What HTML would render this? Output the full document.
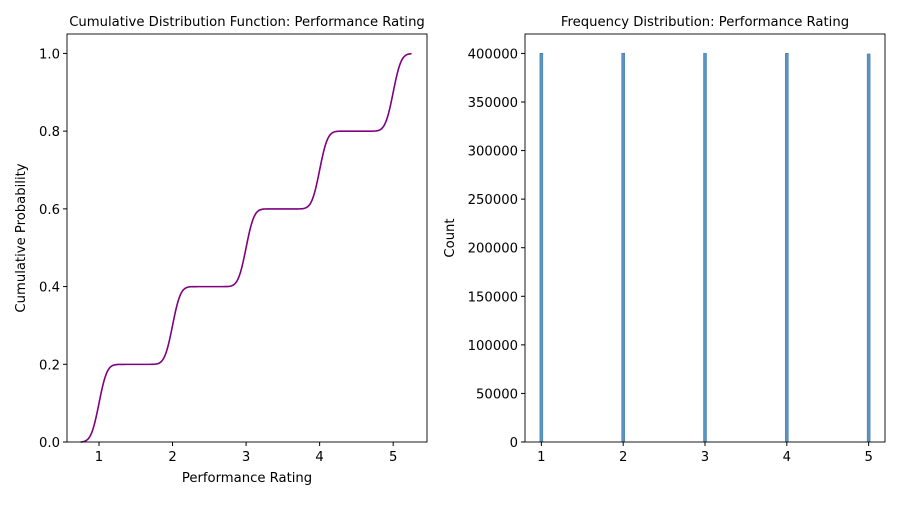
<!DOCTYPE html>
<html><head><meta charset="utf-8"><style>
body{margin:0;background:#fff;}
svg{font-family:"DejaVu Sans","Liberation Sans",sans-serif;}
</style></head><body>
<svg id="c" width="900" height="500" xmlns="http://www.w3.org/2000/svg"></svg>
<script>
const ratings=[1,2,3,4,5];
const counts=[400200,400250,400100,400200,399500];
const cdfTicks=[1,2,3,4,5];
const cdfYTicks=[0,0.2,0.4,0.6,0.8,1.0];
const histYTicks=[0,50000,100000,150000,200000,250000,300000,350000,400000];
const NS="http://www.w3.org/2000/svg";
const svg=document.getElementById('c');
const FS=13.2;
function mk(t,a,p){const e=document.createElementNS(NS,t);for(const k in a)e.setAttribute(k,a[k]);(p||svg).appendChild(e);return e;}
function txt(s,a,p){const e=mk('text',a,p);e.textContent=s;return e;}
const L={x0:67,x1:427,y0:34,y1:442,xmin:0.565,xmax:5.46,ymin:0,ymax:1.05};
const lx=v=>L.x0+(v-L.xmin)/(L.xmax-L.xmin)*(L.x1-L.x0);
const ly=v=>L.y1-(v-L.ymin)/(L.ymax-L.ymin)*(L.y1-L.y0);
const gL=mk('g',{});
const total=counts.reduce((a,b)=>a+b,0);
function erf(x){const t=1/(1+0.3275911*Math.abs(x));const y=1-(((((1.061405429*t-1.453152027)*t)+1.421413741)*t-0.284496736)*t+0.254829592)*t*Math.exp(-x*x);return x>=0?y:-y;}
const bw=0.085;
let d='';
for(let i=0;i<=300;i++){const x=0.75+4.5*i/300;let s=0;ratings.forEach((r,j)=>{s+=counts[j]/total*0.5*(1+erf((x-r)/(bw*Math.SQRT2)));});
const lo=0.5*(1+erf((0.75-1)/(bw*Math.SQRT2)))*counts[0]/total;s=s-lo;
d+=(i?'L':'M')+lx(x).toFixed(2)+','+ly(s).toFixed(2);}
const cl=mk('path',{d:d,fill:'none',stroke:'#800080','stroke-width':1.6},gL);
const fr=mk('rect',{x:L.x0,y:L.y0,width:L.x1-L.x0,height:L.y1-L.y0,fill:'none',stroke:'#000','stroke-width':0.9},gL);
cdfTicks.forEach(v=>{mk('line',{x1:lx(v),x2:lx(v),y1:L.y1,y2:L.y1+4,stroke:'#000'},gL);const t=txt(v,{x:lx(v),y:L.y1+19,'font-size':FS,'text-anchor':'middle'},gL);});
cdfYTicks.forEach(v=>{mk('line',{x1:L.x0-4,x2:L.x0,y1:ly(v),y2:ly(v),stroke:'#000'},gL);const t=txt(v.toFixed(1),{x:L.x0-7,y:ly(v)+5,'font-size':FS,'text-anchor':'end'},gL);});
let t=txt('Cumulative Distribution Function: Performance Rating',{x:(L.x0+L.x1)/2,y:26,'font-size':FS,'text-anchor':'middle'},gL);
t=txt('Performance Rating',{x:(L.x0+L.x1)/2,y:482,'font-size':FS,'text-anchor':'middle'},gL);
t=txt('Cumulative Probability',{x:0,y:0,'font-size':FS,'text-anchor':'middle',transform:'translate(25,238) rotate(-90)'},gL);
const R={x0:525,x1:885,y0:34,y1:442,xmin:0.8,xmax:5.2,ymin:0,ymax:420000};
const rx=v=>R.x0+(v-R.xmin)/(R.xmax-R.xmin)*(R.x1-R.x0);
const ry=v=>R.y1-(v-R.ymin)/(R.ymax-R.ymin)*(R.y1-R.y0);
const gR=mk('g',{});
ratings.forEach((r,i)=>{const b=mk('rect',{x:rx(r)-1.5,y:ry(counts[i]),width:3,height:ry(0)-ry(counts[i]),fill:'#5a93c2',stroke:'#3a78aa','stroke-width':0.5},gR);});
const fr2=mk('rect',{x:R.x0,y:R.y0,width:R.x1-R.x0,height:R.y1-R.y0,fill:'none',stroke:'#000','stroke-width':0.9},gR);
ratings.forEach(v=>{mk('line',{x1:rx(v),x2:rx(v),y1:R.y1,y2:R.y1+4,stroke:'#000'},gR);const t=txt(v,{x:rx(v),y:R.y1+19,'font-size':FS,'text-anchor':'middle'},gR);});
histYTicks.forEach(v=>{mk('line',{x1:R.x0-4,x2:R.x0,y1:ry(v),y2:ry(v),stroke:'#000'},gR);const t=txt(v,{x:R.x0-7,y:ry(v)+5,'font-size':FS,'text-anchor':'end'},gR);});
t=txt('Frequency Distribution: Performance Rating',{x:(R.x0+R.x1)/2,y:26,'font-size':FS,'text-anchor':'middle'},gR);
t=txt('Count',{x:0,y:0,'font-size':FS,'text-anchor':'middle',transform:'translate(454,238) rotate(-90)'},gR);
</script>
</body></html>
